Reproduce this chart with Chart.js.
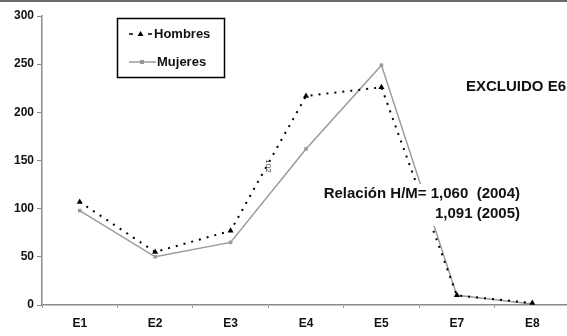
<!DOCTYPE html>
<html>
<head>
<meta charset="utf-8">
<script src="https://cdn.jsdelivr.net/npm/chart.js@4"></script>
<style>
  html, body { margin: 0; padding: 0; background: #fff; overflow: hidden; }
  #wrap { width: 574px; height: 336px; }
</style>
</head>
<body>
<div id="wrap"><canvas id="myChart"></canvas></div>
<script>
var categories = ['E1', 'E2', 'E3', 'E4', 'E5', 'E7', 'E8'];
var hombres = [107, 55, 77, 217, 226, 10, 2];
var mujeres = [98, 50, 65, 162, 249, 10, 1];
var yTicks = [0, 50, 100, 150, 200, 250, 300];

var fontFamily = '"Liberation Sans", Arial, sans-serif';

// legend box, notes and the top rule, drawn on top of the chart
const notesPlugin = {
  id: 'notes',
  afterDraw: function (chart) {
    var ctx = chart.ctx;
    ctx.save();

    // top rule
    ctx.fillStyle = '#6a6a6a';
    ctx.fillRect(0, 0, 574, 2);

    // legend box
    ctx.fillStyle = '#fff';
    ctx.fillRect(117, 18, 108, 60);
    ctx.strokeStyle = '#000';
    ctx.lineWidth = 1.5;
    ctx.strokeRect(117.5, 18.5, 107, 59);

    // Hombres sample
    ctx.strokeStyle = '#000';
    ctx.lineWidth = 1.5;
    ctx.beginPath();
    ctx.moveTo(129, 34); ctx.lineTo(133, 34);
    ctx.moveTo(148, 34); ctx.lineTo(152, 34);
    ctx.stroke();
    ctx.fillStyle = '#000';
    ctx.beginPath();
    ctx.moveTo(140.5, 31); ctx.lineTo(143.5, 36); ctx.lineTo(137.5, 36);
    ctx.closePath(); ctx.fill();

    // Mujeres sample
    ctx.strokeStyle = '#9a9a9a';
    ctx.beginPath();
    ctx.moveTo(129, 62); ctx.lineTo(156, 62);
    ctx.stroke();
    ctx.fillStyle = '#9a9a9a';
    ctx.fillRect(140, 60, 4, 4);

    ctx.fillStyle = '#111';
    ctx.font = 'bold 13px ' + fontFamily;
    ctx.textBaseline = 'middle';
    ctx.textAlign = 'left';
    ctx.fillText('Hombres', 154, 34);
    ctx.fillText('Mujeres', 157, 62);

    // EXCLUIDO E6
    ctx.font = 'bold 15px ' + fontFamily;
    ctx.textAlign = 'right';
    ctx.fillText('EXCLUIDO E6', 566, 87);

    // relation note on white background
    ctx.fillStyle = '#fff';
    ctx.fillRect(312, 184, 212, 42);
    ctx.fillStyle = '#111';
    ctx.fillText('Relación H/M= 1,060  (2004)', 520, 194);
    ctx.fillText('1,091 (2005)', 520, 214);

    // stray rotated label
    ctx.translate(268, 166);
    ctx.rotate(Math.PI / 2);
    ctx.font = '8px ' + fontFamily;
    ctx.fillStyle = '#444';
    ctx.textAlign = 'center';
    ctx.fillText('102', 0, 0);

    ctx.restore();
  }
};

const data = {
  labels: categories,
  datasets: [{
    label: 'Hombres',
    data: hombres,
    borderColor: '#000',
    backgroundColor: '#000',
    borderWidth: 2,
    borderDash: [2, 6],
    pointStyle: 'triangle',
    pointRadius: 3.5,
    pointBorderWidth: 0,
    tension: 0
  }, {
    label: 'Mujeres',
    data: mujeres,
    borderColor: '#9a9a9a',
    backgroundColor: '#9a9a9a',
    borderWidth: 1.5,
    pointStyle: 'rect',
    pointRadius: 2.5,
    pointBorderWidth: 0,
    tension: 0
  }]
};

const config = {
  type: 'line',
  data: data,
  options: {
    responsive: true,
    maintainAspectRatio: false,
    animation: false,
    layout: { padding: { top: 16, right: 0, left: 0, bottom: 0 } },
    plugins: {
      legend: { display: false },
      tooltip: { enabled: false }
    },
    scales: {
      x: {
        offset: true,
        afterFit: function (scale) { scale.height = 31; },
        grid: {
          offset: true,
          drawOnChartArea: false,
          drawTicks: true,
          tickLength: 3,
          color: '#9a9a9a'
        },
        border: { display: true, color: '#8a8a8a', width: 1.5 },
        ticks: {
          color: '#111',
          padding: 8,
          maxRotation: 0,
          font: { family: fontFamily, size: 12, weight: 'bold' }
        }
      },
      y: {
        min: 0,
        max: 300,
        afterFit: function (scale) { scale.width = 42; },
        afterBuildTicks: function (scale) {
          scale.ticks = yTicks.map(function (v) { return { value: v }; });
        },
        grid: {
          drawOnChartArea: false,
          drawTicks: true,
          tickLength: 5,
          color: '#8a8a8a'
        },
        border: { display: true, color: '#8a8a8a', width: 1.5 },
        ticks: {
          color: '#111',
          padding: 3,
          font: { family: fontFamily, size: 12, weight: 'bold' }
        }
      }
    }
  },
  plugins: [notesPlugin]
};

var myChart = new Chart(document.getElementById('myChart'), config);
</script>
</body>
</html>
